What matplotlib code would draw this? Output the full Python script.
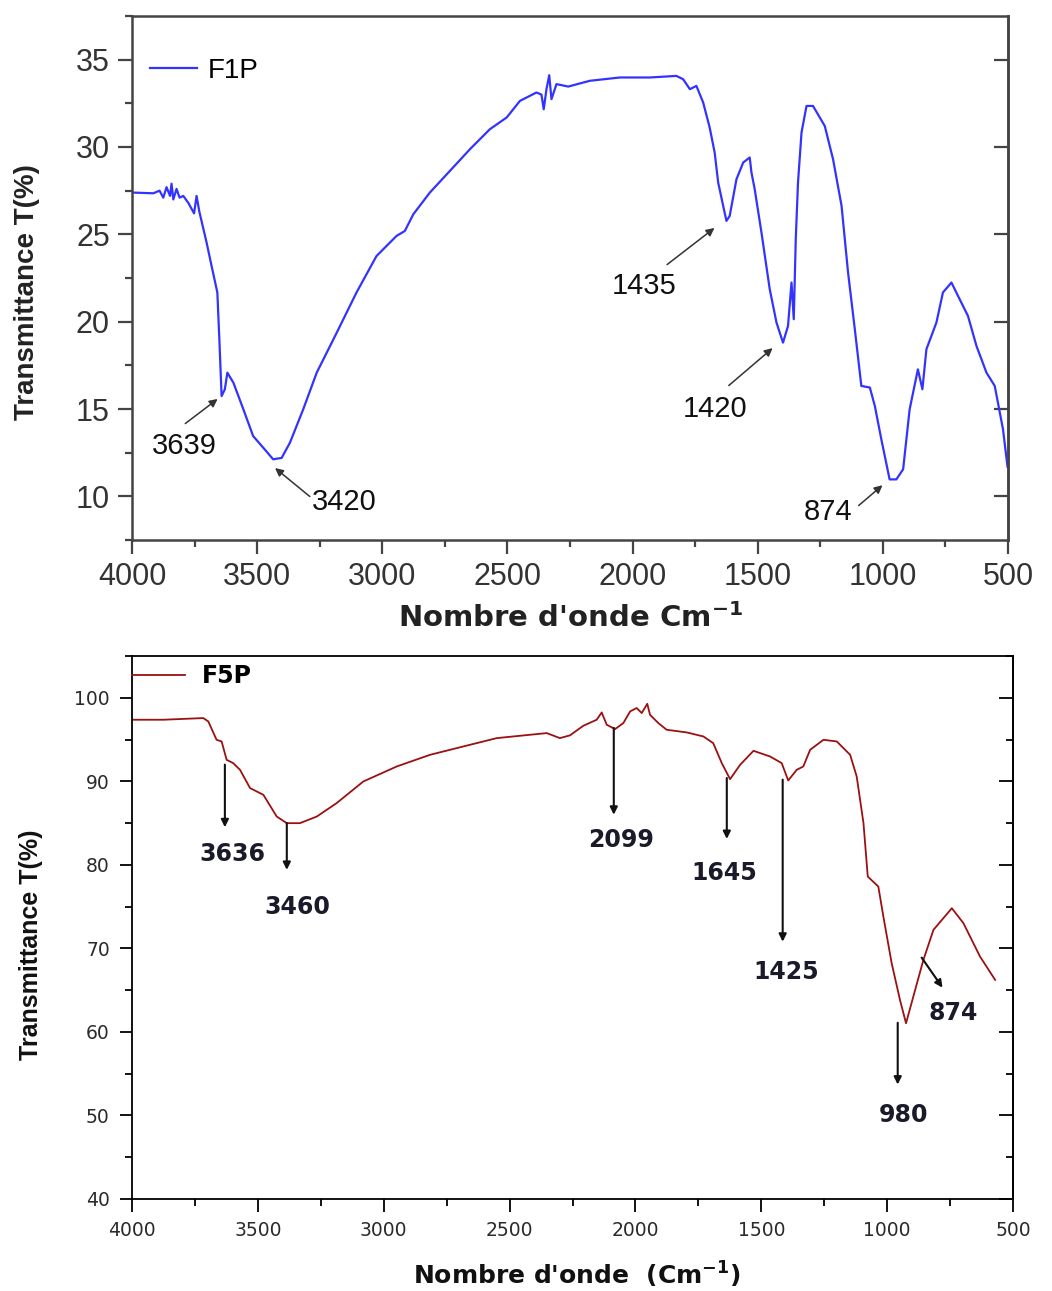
import matplotlib
matplotlib.use("Agg")
import matplotlib.pyplot as plt
from matplotlib.ticker import MultipleLocator

# ---- F1P spectrum (top) ----
f1p_wn = [3995, 3915, 3890, 3875, 3862, 3848, 3842, 3835, 3822, 3810, 3795, 3775, 3752, 3742, 3731, 3702,
          3682, 3659, 3651, 3642, 3629, 3619, 3595, 3555, 3516, 3476, 3436, 3402,
          3369, 3316, 3262, 3182, 3103, 3023, 2943, 2910, 2876, 2810, 2730, 2650,
          2570, 2503, 2450, 2384, 2364, 2355, 2344, 2333, 2324, 2304, 2257, 2171,
          2051, 1931, 1825, 1798, 1771, 1745, 1718, 1692, 1672, 1658, 1638, 1625,
          1612, 1585, 1558, 1532, 1525, 1512, 1485, 1452, 1425, 1399, 1379, 1365,
          1356, 1348, 1339, 1325, 1305, 1279, 1232, 1199, 1165, 1139, 1112, 1086,
          1052, 1032, 1006, 973, 946, 919, 893, 860, 842, 826, 786, 760, 726, 693,
          660, 626, 586, 553, 520, 502]
f1p_t = [27.39, 27.35, 27.5, 27.1, 27.7, 27.2, 27.9, 27.0, 27.6, 27.1, 27.2, 26.8, 26.2, 27.2, 26.3, 24.53,
         23.19, 21.67, 18.99, 15.74, 16.13, 17.08, 16.51, 14.98, 13.45, 12.79, 12.12, 12.2,
         13.07, 14.98, 17.08, 19.37, 21.67, 23.76, 24.91, 25.19, 26.15, 27.39, 28.63, 29.87,
         31.02, 31.69, 32.64, 33.12, 33.0, 32.16, 33.31, 34.11, 32.74, 33.6, 33.46, 33.79,
         33.98, 33.98, 34.07, 33.88, 33.31, 33.5, 32.55, 31.12, 29.68, 27.97, 26.63, 25.77,
         26.05, 28.15, 29.11, 29.4, 28.54, 27.58, 25.1, 21.86, 19.95, 18.8, 19.75, 22.24,
         20.14, 24.72, 27.97, 30.83, 32.35, 32.35, 31.2, 29.3, 26.63, 22.81, 19.56, 16.32,
         16.23, 15.17, 13.26, 10.97, 10.97, 11.55, 14.98, 17.27, 16.13, 18.42, 19.95, 21.67,
         22.24, 21.28, 20.33, 18.61, 17.08, 16.32, 13.84, 11.7]

# ---- F5P spectrum (bottom) ----
f5p_wn = [3995, 3876, 3717, 3697, 3664, 3644, 3624, 3598, 3571, 3531, 3478, 3425,
          3385, 3333, 3266, 3187, 3081, 2948, 2816, 2684, 2551, 2419, 2352, 2300,
          2260, 2207, 2154, 2134, 2114, 2081, 2048, 2021, 1995, 1975, 1953, 1942,
          1909, 1876, 1796, 1730, 1691, 1657, 1624, 1584, 1531, 1465, 1419, 1393,
          1359, 1333, 1306, 1253, 1200, 1147, 1121, 1094, 1077, 1035, 1015, 982,
          949, 925, 896, 856, 816, 743, 697, 631, 571]
f5p_t = [97.37, 97.37, 97.57, 97.17, 94.97, 94.77, 92.57, 92.18, 91.38, 89.19, 88.38, 85.78,
         84.99, 84.99, 85.78, 87.39, 89.98, 91.78, 93.17, 94.17, 95.17, 95.57, 95.77, 95.17,
         95.5, 96.65, 97.37, 98.24, 96.77, 96.25, 96.97, 98.37, 98.77, 98.17, 99.28, 97.96,
         96.97, 96.17, 95.85, 95.37, 94.57, 92.18, 90.26, 91.98, 93.65, 92.97, 92.18, 90.1,
         91.38, 91.78, 93.77, 94.97, 94.77, 93.17, 90.58, 84.99, 78.6, 77.4, 73.81, 68.22,
         63.83, 61.04, 64.23, 68.62, 72.22, 74.81, 73.02, 69.02, 66.23]

# top annotations: label, arrow head (x, y), arrow tail (x, y), label centre (x, y)
top_labels = ["3639", "3420", "1435", "1420", "874"]
top_head = [(3649, 15.67), (3437, 11.72), (1664, 25.46), (1432, 18.59), (993, 10.74)]
top_tail = [(3796, 14.07), (3281, 9.89), (1871, 23.17), (1624, 16.24), (1105, 9.37)]
top_text = [(3792, 12.86), (3153, 9.66), (1955, 22.03), (1671, 14.98), (1220, 9.08)]

# bottom annotations
bot_labels = ["3636", "3460", "2099", "1645", "1425", "980", "874"]
bot_tail = [(3631, 92.0), (3385, 85.0), (2086, 96.4), (1637, 90.4), (1415, 90.2), (958, 61.1), (863, 68.9)]
bot_head = [(3631, 84.5), (3385, 79.4), (2086, 86.0), (1637, 83.1), (1415, 70.8), (958, 53.7), (780, 65.3)]
bot_text = [(3603, 81.3), (3344, 75.0), (2057, 83.0), (1648, 79.0), (1402, 67.2), (937, 50.06), (738, 62.3)]

fig = plt.figure(figsize=(10.52, 12.91), dpi=100)

# ================= top panel =================
ax1 = fig.add_axes([132/1052, 1-540/1291, 876/1052, 524/1291])
ax1.plot(f1p_wn, f1p_t, color="#3333ff", lw=1.6, label="F1P")
ax1.set_xlim(4000, 500)
ax1.set_ylim(7.5, 37.5)
ax1.xaxis.set_major_locator(MultipleLocator(500))
ax1.xaxis.set_minor_locator(MultipleLocator(250))
ax1.yaxis.set_major_locator(MultipleLocator(5))
ax1.yaxis.set_minor_locator(MultipleLocator(2.5))
for s in ax1.spines.values():
    s.set_color("#444444")
    s.set_linewidth(1.8)
ax1.tick_params(which="both", direction="out", colors="#444444", width=1.6,
                labelcolor="#333333", labelsize=22, pad=6)
ax1.tick_params(which="major", length=10)
ax1.tick_params(which="minor", length=5)
for t in ax1.get_xticklabels() + ax1.get_yticklabels():
    t.set_fontfamily("Liberation Sans")
# right side ticks inward, major only
ax1r = ax1.secondary_yaxis("right")
ax1r.yaxis.set_major_locator(MultipleLocator(5))
ax1r.tick_params(direction="in", length=10, width=1.6, colors="#444444", labelright=False)
ax1r.spines["right"].set_color("#444444")
ax1r.spines["right"].set_linewidth(1.8)

ax1.legend(loc="upper left", bbox_to_anchor=(0.02, 0.92), frameon=False,
           borderaxespad=0, borderpad=0, handlelength=1.7, handletextpad=0.4,
           prop={"family": "Liberation Sans", "size": 20})

for lab, hd, tl, tx in zip(top_labels, top_head, top_tail, top_text):
    ax1.annotate("", xy=hd, xytext=tl,
                 arrowprops=dict(arrowstyle="-|>", color="#333333", lw=1.1, mutation_scale=12))
    ax1.text(tx[0], tx[1], lab, ha="center", va="center", fontsize=21,
             family="Liberation Sans", color="#111111")

fig.text(0.026, 1-292/1291, "Transmittance T(%)", rotation=90, ha="center", va="center",
         fontsize=20, fontweight="bold", family="Liberation Sans", color="#222222")
fig.text(570/1052, 1-618/1291, r"Nombre d'onde Cm$^{\mathbf{-1}}$", ha="center", va="center",
         fontsize=21, fontweight="bold", family="DejaVu Sans", color="#222222")

# ================= bottom panel =================
ax2 = fig.add_axes([132/1052, 1-1199/1291, 881/1052, 543/1291])
ax2.plot(f5p_wn, f5p_t, color="#9b1010", lw=1.3, label="F5P")
ax2.set_xlim(4000, 500)
ax2.set_ylim(40, 105)
ax2.xaxis.set_major_locator(MultipleLocator(500))
ax2.xaxis.set_minor_locator(MultipleLocator(250))
ax2.yaxis.set_major_locator(MultipleLocator(10))
ax2.yaxis.set_minor_locator(MultipleLocator(5))
for s in ax2.spines.values():
    s.set_color("black")
    s.set_linewidth(1.3)
ax2.tick_params(which="both", direction="out", width=1.3, labelsize=13.5,
                labelcolor="#2a2a2a", pad=7)
ax2.tick_params(which="major", length=9)
ax2.tick_params(which="minor", length=5)
ax2r = ax2.secondary_yaxis("right")
ax2r.yaxis.set_major_locator(MultipleLocator(10))
ax2r.yaxis.set_minor_locator(MultipleLocator(5))
ax2r.tick_params(which="both", direction="in", width=1.3, labelright=False)
ax2r.tick_params(which="major", length=10)
ax2r.tick_params(which="minor", length=5)
ax2r.spines["right"].set_linewidth(1.3)

ax2.legend(loc="upper left", bbox_to_anchor=(0.0, 0.985), frameon=False,
           borderaxespad=0, borderpad=0, handlelength=2.25, handletextpad=0.7,
           prop={"family": "DejaVu Sans", "weight": "bold", "size": 17})

for lab, hd, tl, tx in zip(bot_labels, bot_head, bot_tail, bot_text):
    ax2.annotate("", xy=hd, xytext=tl,
                 arrowprops=dict(arrowstyle="-|>", color="#111111", lw=1.5, mutation_scale=11,
                                 shrinkA=0, shrinkB=0))
    ax2.text(tx[0], tx[1], lab, ha="center", va="center", fontsize=17,
             fontweight="bold", family="DejaVu Sans", color="#1a1a2a")

fig.text(0.029, 1-945/1291, "Transmittance T(%)", rotation=90, ha="center", va="center",
         fontsize=18, fontweight="bold", family="Liberation Sans", color="#111111")
fig.text(577/1052, 1-1275/1291, r"Nombre d'onde  (Cm$^{\mathbf{-1}}$)", ha="center", va="center",
         fontsize=18, fontweight="bold", family="DejaVu Sans", color="#111111")

fig.savefig("out.png", dpi=100)
